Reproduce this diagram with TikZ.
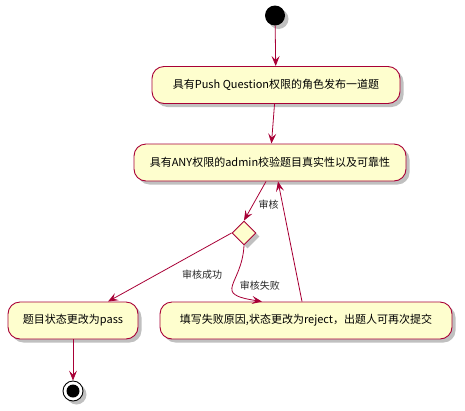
\documentclass[tikz,border=0pt]{standalone}
\usepackage{fontspec}
\setmainfont{Noto Sans CJK SC}
\usetikzlibrary{arrows.meta,shadows,calc,shapes.geometric}
\definecolor{pumlred}{HTML}{A80036}
\definecolor{pumlfill}{HTML}{FEFECE}
\tikzset{
  pshadow/.style={drop shadow={shadow xshift=3.5pt,shadow yshift=-3.5pt,fill=black!45,opacity=0.55}},
  actbox/.style={draw=pumlred,line width=0.9pt,fill=pumlfill,rounded corners=12pt,
    minimum height=37pt,inner xsep=0pt,font=\fontsize{11}{13}\selectfont,pshadow},
  conn/.style={draw=pumlred,line width=0.8pt,-{Stealth[length=10pt,width=8pt,inset=4pt]}},
  lbl/.style={font=\fontsize{10}{12}\selectfont,text=black!85},
}
\begin{document}
\begin{tikzpicture}[x=1pt,y=-1pt]
\useasboundingbox (0,0) rectangle (465,410);
\node[circle,fill=black,minimum size=20pt,inner sep=0pt,pshadow] (start) at (275,15.5) {};
\node[actbox,minimum width=248pt] (b1) at (276,85) {具有Push Question权限的角色发布一道题};
\node[actbox,minimum width=272pt] (b2) at (270,162.5) {具有ANY权限的admin校验题目真实性以及可靠性};
\node[draw=pumlred,line width=0.9pt,fill=pumlfill,diamond,shape aspect=1,minimum size=24pt,inner sep=0pt,pshadow] (d) at (244,233) {};
\node[actbox,minimum width=130pt] (b3) at (73,320.5) {题目状态更改为pass};
\node[actbox,minimum width=292pt] (b4) at (306,320.5) {填写失败原因,状态更改为reject，出题人可再次提交};
\node[circle,draw=black,line width=0.9pt,fill=white,minimum size=20pt,inner sep=0pt,pshadow] (stop) at (73,391) {};
\node[circle,fill=black,minimum size=13pt,inner sep=0pt] (stopin) at (stop) {};
\draw[conn] (start) -- (b1);
\draw[conn] (b1) -- (b2);
\draw[conn] ($(b2.south)+(-4,0)$) -- (d.north) node[lbl,pos=0.6,anchor=west,xshift=2pt] {审核};
\draw[conn] (d.west) -- ($(b3.north)+(35,0)$) node[lbl,pos=0.4,xshift=20pt,yshift=-14pt] {审核成功};
\draw[conn] (d.south) .. controls ($(d.south)+(-2,40)$) and ($(b4.north)+(-95,-8)$) .. ($(b4.north)+(-44,0)$) node[lbl,pos=0.5,anchor=west,xshift=3pt] {审核失败};
\draw[conn] ($(b4.north)+(-4,0)$) -- ($(b2.south)+(8,0)$);
\draw[conn] (b3) -- (stop);
\end{tikzpicture}
\end{document}
